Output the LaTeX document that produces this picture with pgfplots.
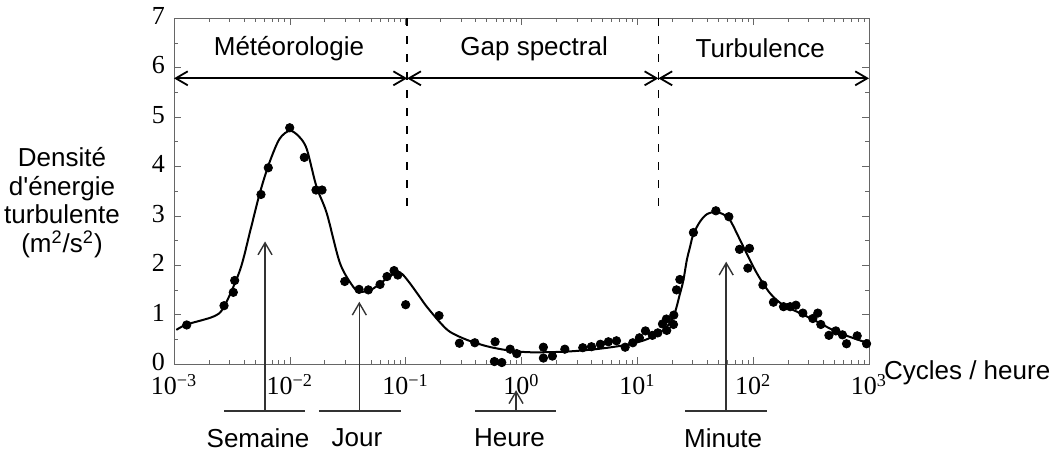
\documentclass[border=0pt]{standalone}
\usepackage{fontspec}
\setmainfont{Liberation Sans}
\newfontfamily\serif{Liberation Serif}
\usepackage{pgfplots}
\pgfplotsset{compat=1.18}
\usetikzlibrary{arrows.meta}

\begin{document}
\fontsize{13}{14.3}\selectfont
\begin{tikzpicture}[>={Straight Barb[length=6pt,width=7pt]}]
\begin{axis}[
    scale only axis, width=347.5pt, height=173pt,
    xmode=log, xmin=1e-3, xmax=1e3, ymin=0, ymax=7,
    xtick={1e-3,1e-2,1e-1,1,10,100,1000},
    xticklabels={10\textsuperscript{−3},10\textsuperscript{−2},10\textsuperscript{−1},10\textsuperscript{0},10\textsuperscript{1},10\textsuperscript{2},10\textsuperscript{3}},
    minor xtick={2e-3,3e-3,4e-3,5e-3,6e-3,7e-3,8e-3,9e-3,
                 2e-2,3e-2,4e-2,5e-2,6e-2,7e-2,8e-2,9e-2,
                 0.2,0.3,0.4,0.5,0.6,0.7,0.8,0.9,
                 2,3,4,5,6,7,8,9,20,30,40,50,60,70,80,90,
                 200,300,400,500,600,700,800,900},
    ytick={0,1,2,3,4,5,6,7}, minor y tick num=1,
    axis line style={black!60}, tick style={black!60},
    major tick length=3.5pt, minor tick length=1.8pt,
    tick label style={font=\serif\fontsize{13}{13}\selectfont},
    xticklabel style={yshift=-0.5pt},
    yticklabel style={yshift=1pt},
    /pgf/number format/assume math mode=true,
    clip=false,
]
% measured points
\addplot[only marks, mark=*, mark size=2.1pt, black] coordinates {
(0.001288,0.79)(0.002704,1.18)(0.003251,1.45)(0.003342,1.69)(0.005636,3.43)
(0.006516,3.97)(0.009977,4.78)(0.01334,4.18)(0.01683,3.52)(0.01897,3.52)
(0.02979,1.67)(0.03963,1.51)(0.04764,1.50)(0.06012,1.61)(0.06902,1.77)
(0.07943,1.89)(0.08551,1.80)(0.1,1.20)(0.1941,0.98)(0.2911,0.42)
(0.3954,0.43)(0.5916,0.45)(0.5834,0.05)(0.6761,0.03)(0.7980,0.30)
(0.9099,0.21)(1.545,0.34)(1.545,0.12)(1.849,0.16)(2.366,0.30)
(3.381,0.33)(4.018,0.35)(4.797,0.40)(5.623,0.45)(6.607,0.47)
(7.852,0.34)(9.141,0.43)(10.42,0.53)(11.75,0.67)(13.49,0.58)
(15.03,0.63)(16.48,0.81)(17.95,0.68)(17.82,0.91)(20.51,0.80)
(20.65,0.99)(21.78,1.50)(23.28,1.71)(30.48,2.66)(47.64,3.10)
(61.66,2.98)(76.21,2.32)(92.90,2.34)(89.95,1.94)(121.3,1.60)
(149.6,1.25)(182.8,1.16)(208.4,1.16)(233.9,1.19)(268.5,1.03)
(327.3,0.92)(361.4,1.03)(383.7,0.80)(450.8,0.58)(517.6,0.67)
(590.2,0.59)(639.7,0.41)(790.7,0.57)(952.8,0.41)
};
% fitted curve
\addplot[smooth, line width=1pt, black] coordinates {
(0.001047,0.69)(0.001288,0.80)(0.002188,0.96)(0.002692,1.15)(0.003715,1.90)
(0.004571,2.71)(0.005495,3.45)(0.006607,4.05)(0.008128,4.55)(0.01,4.72)
(0.01202,4.60)(0.014,4.35)(0.01698,3.59)(0.02084,3.05)(0.02710,2.04)
(0.03532,1.56)(0.04036,1.46)(0.05012,1.50)(0.06026,1.63)(0.07244,1.77)
(0.08375,1.85)(0.09333,1.82)(0.1091,1.63)(0.1330,1.35)(0.1521,1.16)
(0.1982,0.84)(0.2415,0.65)(0.3365,0.49)(0.5012,0.36)(0.7464,0.28)
(1.112,0.24)(1.766,0.24)(2.805,0.26)(4.775,0.31)(8.110,0.39)
(12.08,0.50)(16.83,0.69)(20.51,0.96)(23.39,1.43)(25.00,1.70)
(26.73,2.10)(28.51,2.37)(30.48,2.63)(34.75,2.88)(39.81,3.03)
(47.64,3.08)(54.95,3.03)(63.24,2.91)(82.41,2.37)(107.4,1.84)
(140.0,1.43)(182.4,1.19)(254.1,1.03)(354.0,0.86)(526.0,0.65)
(783.4,0.50)(988.5,0.42)
};
% regions
\draw[black, line width=0.8pt, dash pattern=on 4pt off 5pt] (axis cs:0.103,7) -- (axis cs:0.103,3.18);
\draw[black, line width=0.8pt, dash pattern=on 4pt off 5pt] (axis cs:15.2,7) -- (axis cs:15.2,3.18);
\draw[<->, line width=0.9pt] (axis cs:0.001,5.78) -- (axis cs:0.103,5.78);
\draw[<->, line width=0.9pt] (axis cs:0.103,5.78) -- (axis cs:15.2,5.78);
\draw[<->, line width=0.9pt] (axis cs:15.2,5.78) -- (axis cs:1000,5.78);
\node at (axis cs:0.00984,6.38) {Météorologie};
\node at (axis cs:1.285,6.38) {Gap spectral};
\node at (axis cs:115,6.38) {Turbulence};
% time-scale markers
\draw[black!80, line width=0.7pt] (axis cs:0.002704,-0.95) -- (axis cs:0.01352,-0.95);
\draw[black!80, line width=0.7pt] (axis cs:0.01786,-0.95) -- (axis cs:0.09078,-0.95);
\draw[black!80, line width=0.7pt] (axis cs:0.3972,-0.95) -- (axis cs:1.991,-0.95);
\draw[black!80, line width=0.7pt] (axis cs:25.88,-0.95) -- (axis cs:131.2,-0.95);
\draw[->, black!80, line width=0.7pt] (axis cs:0.00611,-0.95) -- (axis cs:0.00611,2.48);
\draw[->, black!80, line width=0.7pt] (axis cs:0.03981,-0.95) -- (axis cs:0.03981,1.26);
\draw[->, black!80, line width=0.7pt] (axis cs:0.8974,-0.95) -- (axis cs:0.8974,-0.53);
\draw[->, black!80, line width=0.7pt] (axis cs:58.48,-0.95) -- (axis cs:58.48,2.07);
\node at (axis cs:0.00531,-1.50) {Semaine};
\node at (axis cs:0.03802,-1.50) {Jour};
\node at (axis cs:0.7888,-1.50) {Heure};
\node at (axis cs:55.08,-1.50) {Minute};
% axis titles
\node[anchor=west] at (rel axis cs:1,0) [xshift=3pt, yshift=-4.5pt] {Cycles / heure};
\node[align=center, font=\fontsize{13}{14.3}\selectfont] at (rel axis cs:0,0.466) [xshift=-56pt]
  {Densité\\d\textquotesingle énergie\\turbulente\\(m\textsuperscript{2}/s\textsuperscript{2})};
\end{axis}
\pgfresetboundingbox
\useasboundingbox (-87pt,-44pt) rectangle (442pt,182pt);
\end{tikzpicture}
\end{document}
